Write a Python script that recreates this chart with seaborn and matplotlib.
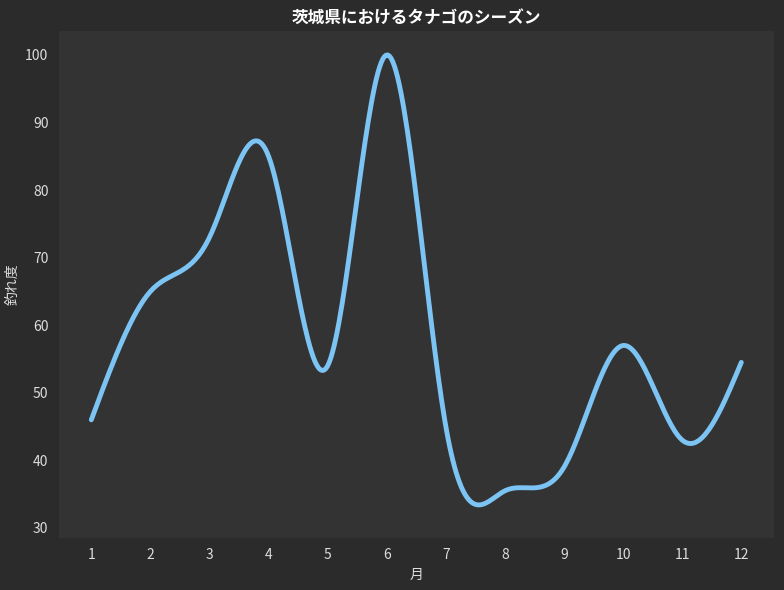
import matplotlib
matplotlib.use("Agg")
import matplotlib.pyplot as plt
import numpy as np
import pandas as pd
import seaborn as sns

months = [1, 2, 3, 4, 5, 6, 7, 8, 9, 10, 11, 12]
scores = [46, 65, 73, 85, 54, 100, 45, 35.5, 39, 57, 43, 54.5]


def natural_spline(x, y, n=400):
    # plain natural cubic spline, only used to draw the smooth line
    x = np.asarray(x, float)
    y = np.asarray(y, float)
    k = len(x)
    h = np.diff(x)
    A = np.zeros((k, k))
    b = np.zeros(k)
    A[0, 0] = A[-1, -1] = 1
    for i in range(1, k - 1):
        A[i, i - 1] = h[i - 1]
        A[i, i] = 2 * (h[i - 1] + h[i])
        A[i, i + 1] = h[i]
        b[i] = 3 * ((y[i + 1] - y[i]) / h[i] - (y[i] - y[i - 1]) / h[i - 1])
    c = np.linalg.solve(A, b)
    xs = np.linspace(x[0], x[-1], n)
    idx = np.clip(np.searchsorted(x, xs) - 1, 0, k - 2)
    dx = xs - x[idx]
    bb = (y[idx + 1] - y[idx]) / h[idx] - h[idx] * (2 * c[idx] + c[idx + 1]) / 3
    dd = (c[idx + 1] - c[idx]) / (3 * h[idx])
    ys = y[idx] + bb * dx + c[idx] * dx**2 + dd * dx**3
    return xs, ys


def main():
    sns.set_style("dark")
    plt.rcParams["font.family"] = ["Noto Sans CJK JP", "DejaVu Sans"]

    xs, ys = natural_spline(months, scores)
    df = pd.DataFrame({"month": xs, "score": ys})

    fig, ax = plt.subplots(figsize=(7.84, 5.9), dpi=100)
    fig.patch.set_facecolor("#2b2b2b")
    ax.set_facecolor("#333333")

    sns.lineplot(data=df, x="month", y="score", color="#7cc4f4", linewidth=3.5, ax=ax)

    ax.set_xticks(months)
    ax.set_xlim(0.45, 12.55)
    ax.set_yticks(range(30, 101, 10))
    ax.set_ylim(28.5, 103.5)
    ax.grid(False)
    for s in ax.spines.values():
        s.set_visible(False)
    ax.tick_params(colors="#dddddd", labelsize=10, length=4, color="#aaaaaa")
    ax.set_xlabel("月", color="#dddddd", fontsize=10)
    ax.set_ylabel("釣れ度", color="#dddddd", fontsize=10)
    ax.set_title("茨城県におけるタナゴのシーズン", color="#ffffff",
                 fontsize=12, fontweight="bold")

    fig.subplots_adjust(left=0.075, right=0.987, top=0.947, bottom=0.088)
    fig.savefig("out.png", facecolor=fig.get_facecolor())


if __name__ == "__main__":
    main()
